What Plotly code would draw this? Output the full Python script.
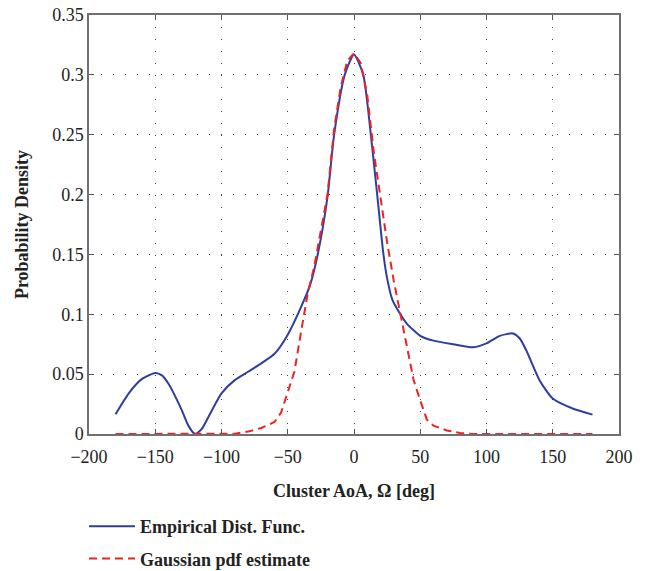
import plotly.graph_objects as go

# Empirical distribution (blue)
emp_x = [-180, -170, -160, -150, -145, -140, -130, -125, -120, -115, -110, -100, -90, -80, -70, -60,
         -50, -40, -33, -27, -20, -15, -7, 0, 7, 12.7, 17.5, 22, 25, 29, 35, 40, 50, 60, 75, 90,
         100, 110, 120, 125, 130, 140, 150, 165, 180]
emp_y = [0.0165, 0.034, 0.046, 0.051, 0.049, 0.042, 0.020, 0.007, 0.0, 0.004, 0.014, 0.034, 0.045,
         0.052, 0.059, 0.067, 0.083, 0.106, 0.125, 0.152, 0.198, 0.250, 0.300, 0.317, 0.300, 0.250,
         0.200, 0.152, 0.130, 0.112, 0.100, 0.092, 0.082, 0.078, 0.075, 0.0725, 0.0757, 0.082,
         0.084, 0.080, 0.070, 0.045, 0.0296, 0.0213, 0.0162]

# Gaussian pdf estimate (red dashed)
gau_x = [-180, -150, -120, -100, -90, -80, -70, -60, -55, -50, -45, -40, -35, -30, -25, -20, -15,
         -10, -5, 0, 5, 10, 15, 20, 25, 30, 35, 40, 45, 50, 55, 60, 70, 80, 90, 100, 120, 150, 180]
gau_y = [0, 0, 0, 0, 0.0003, 0.002, 0.005, 0.010, 0.018, 0.035, 0.052, 0.085, 0.117, 0.140, 0.170,
         0.200, 0.255, 0.290, 0.312, 0.318, 0.310, 0.283, 0.235, 0.196, 0.160, 0.128, 0.100, 0.070,
         0.045, 0.028, 0.012, 0.007, 0.003, 0.0008, 0, 0, 0, 0, 0]

x_ticks = [-200, -150, -100, -50, 0, 50, 100, 150, 200]
y_ticks = [0, 0.05, 0.1, 0.15, 0.2, 0.25, 0.3, 0.35]

serif = "Liberation Serif"

fig = go.Figure()
fig.add_trace(go.Scatter(x=emp_x, y=emp_y, mode="lines", name="Empirical Dist. Func.",
                         legendgroup="a",
                         line=dict(color="#2E3F9E", width=2, shape="spline", smoothing=0.6)))
fig.add_trace(go.Scatter(x=gau_x, y=gau_y, mode="lines", name="Gaussian pdf estimate",
                         legendgroup="b",
                         line=dict(color="#EE2222", width=2, dash="8px,5px")))

axis_common = dict(showline=True, linecolor="#707070", linewidth=1.5, mirror="ticks",
                   ticks="inside", ticklen=5, tickcolor="#555555", automargin=False, tickangle=0,
                   showgrid=True, gridcolor="#444444", gridwidth=1, griddash="1px,11px",
                   zeroline=False, tickfont=dict(family=serif, size=18, color="#222222"))

fig.update_xaxes(range=[-200, 200], tickvals=x_ticks, ticklabelstandoff=6,
                 title=dict(text="<b>Cluster AoA, Ω [deg]</b>", font=dict(family=serif, size=18, color="#222222"),
                            standoff=18),
                 **axis_common)
fig.update_yaxes(range=[0, 0.35], tickvals=y_ticks,
                 title=dict(text="<b>Probability Density</b>", font=dict(family=serif, size=18, color="#222222"),
                            standoff=19),
                 **axis_common)

plot_h = 571 - 15 - 137
fig.update_layout(
    width=654, height=571,
    margin=dict(l=89, r=35, t=15, b=137, autoexpand=False),
    plot_bgcolor="white", paper_bgcolor="white",
    legend=dict(x=-5 / 530, y=-(508 - 434) / plot_h,
                xanchor="left", yanchor="top", orientation="v",
                font=dict(family=serif, size=18, color="#222222", weight="bold"),
                bgcolor="rgba(0,0,0,0)", traceorder="grouped", tracegroupgap=6, itemwidth=46),
)

fig.write_html("out.html")
